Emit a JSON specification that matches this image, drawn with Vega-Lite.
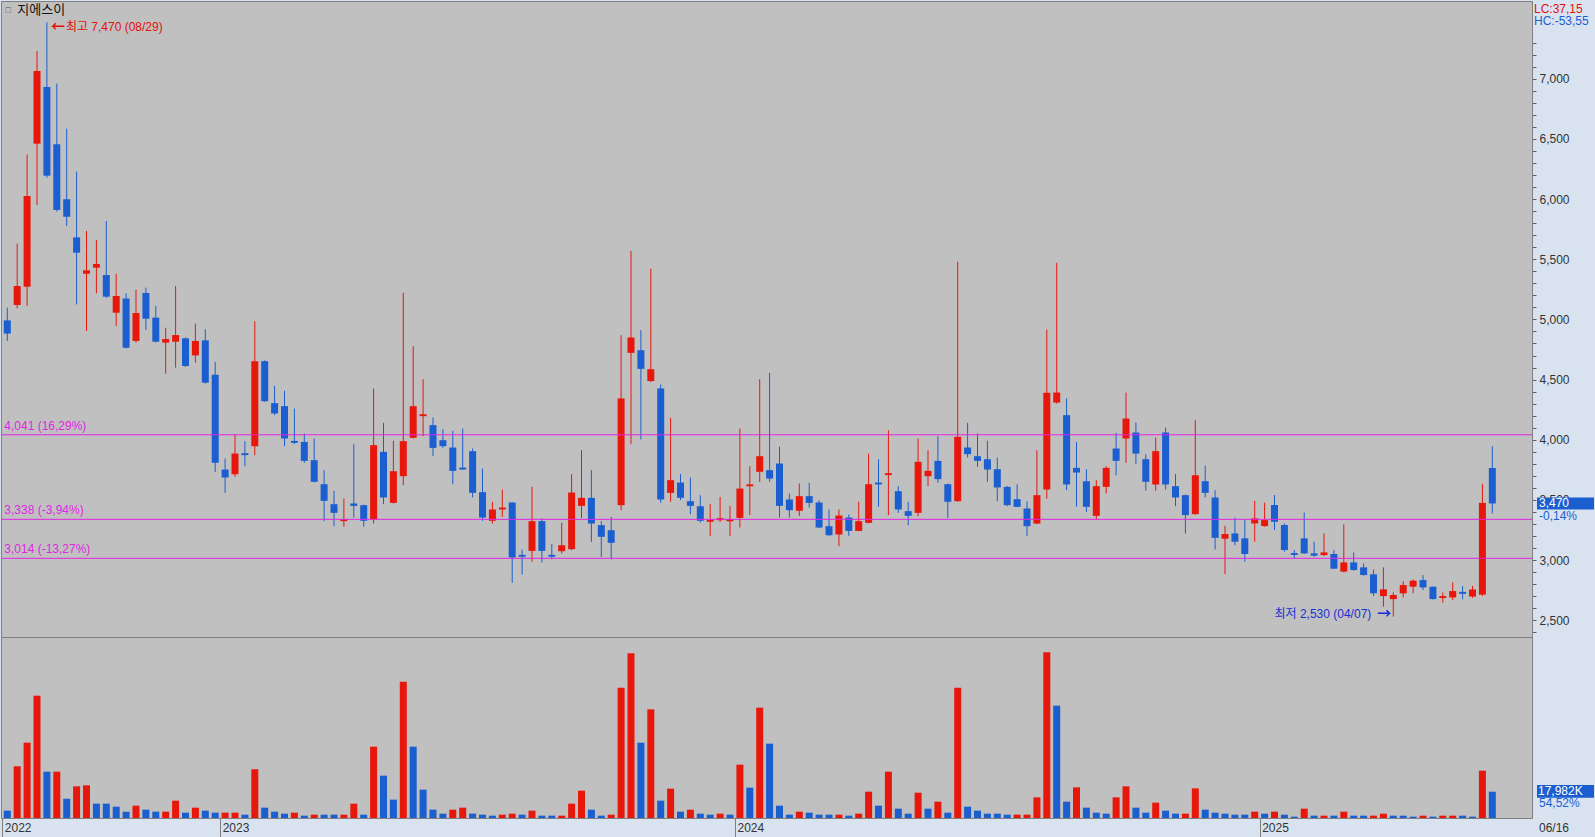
{
"$schema": "https://vega.github.io/schema/vega-lite/v6.json",
"background": "#d9e3f0",
"padding": 0,
"spacing": 0,
"bounds": "flush",
"config": {
 "view": {"fill": "#c0c0c0", "stroke": "#808080", "strokeWidth": 1},
 "font": "Liberation Sans, Noto Sans CJK KR, sans-serif",
 "concat": {"spacing": 0}
},
"datasets": {
 "weekly": [
{"d":"2022-08-01","o":4992,"h":5098,"l":4821,"c":4882,"v":5014,"vd":"down"},
{"d":"2022-08-08","o":5120,"h":5630,"l":5092,"c":5278,"v":35325,"vd":"up"},
{"d":"2022-08-15","o":5272,"h":6372,"l":5112,"c":6026,"v":51505,"vd":"up"},
{"d":"2022-08-22","o":6461,"h":7231,"l":5951,"c":7065,"v":83640,"vd":"up"},
{"d":"2022-08-29","o":6932,"h":7470,"l":6178,"c":6195,"v":31678,"vd":"down"},
{"d":"2022-09-05","o":6456,"h":6960,"l":5896,"c":5910,"v":31678,"vd":"up"},
{"d":"2022-09-12","o":5998,"h":6586,"l":5777,"c":5854,"v":13218,"vd":"down"},
{"d":"2022-09-19","o":5682,"h":6228,"l":5125,"c":5555,"v":21650,"vd":"up"},
{"d":"2022-09-26","o":5380,"h":5735,"l":4904,"c":5408,"v":22334,"vd":"up"},
{"d":"2022-10-03","o":5430,"h":5660,"l":5217,"c":5461,"v":9800,"vd":"down"},
{"d":"2022-10-10","o":5369,"h":5818,"l":5180,"c":5189,"v":9800,"vd":"down"},
{"d":"2022-10-17","o":5056,"h":5380,"l":4945,"c":5195,"v":7749,"vd":"down"},
{"d":"2022-10-24","o":5173,"h":5217,"l":4758,"c":4765,"v":4330,"vd":"down"},
{"d":"2022-10-31","o":4821,"h":5247,"l":4807,"c":5053,"v":8432,"vd":"up"},
{"d":"2022-11-07","o":5220,"h":5264,"l":4912,"c":5006,"v":5698,"vd":"down"},
{"d":"2022-11-14","o":5015,"h":5112,"l":4807,"c":4815,"v":4330,"vd":"down"},
{"d":"2022-11-21","o":4807,"h":4931,"l":4549,"c":4837,"v":4330,"vd":"up"},
{"d":"2022-11-28","o":4815,"h":5278,"l":4599,"c":4870,"v":11851,"vd":"up"},
{"d":"2022-12-05","o":4843,"h":4850,"l":4605,"c":4613,"v":3646,"vd":"down"},
{"d":"2022-12-12","o":4701,"h":4965,"l":4640,"c":4821,"v":7065,"vd":"up"},
{"d":"2022-12-19","o":4826,"h":4918,"l":4466,"c":4474,"v":5014,"vd":"down"},
{"d":"2022-12-26","o":4540,"h":4647,"l":3733,"c":3808,"v":3646,"vd":"down"},
{"d":"2023-01-02","o":3752,"h":3844,"l":3558,"c":3686,"v":3646,"vd":"up"},
{"d":"2023-01-09","o":3713,"h":4043,"l":3691,"c":3885,"v":3646,"vd":"up"},
{"d":"2023-01-16","o":3888,"h":3988,"l":3780,"c":3872,"v":2279,"vd":"down"},
{"d":"2023-01-23","o":3946,"h":4985,"l":3871,"c":4653,"v":33273,"vd":"up"},
{"d":"2023-01-30","o":4653,"h":4660,"l":4315,"c":4320,"v":7065,"vd":"down"},
{"d":"2023-02-06","o":4304,"h":4448,"l":4204,"c":4218,"v":4330,"vd":"down"},
{"d":"2023-02-13","o":4279,"h":4406,"l":3946,"c":4010,"v":2963,"vd":"down"},
{"d":"2023-02-20","o":3990,"h":4259,"l":3963,"c":3974,"v":3646,"vd":"up"},
{"d":"2023-02-27","o":3982,"h":4052,"l":3808,"c":3824,"v":1595,"vd":"down"},
{"d":"2023-03-06","o":3830,"h":4010,"l":3645,"c":3650,"v":2279,"vd":"up"},
{"d":"2023-03-13","o":3630,"h":3747,"l":3323,"c":3492,"v":2279,"vd":"down"},
{"d":"2023-03-20","o":3464,"h":3575,"l":3281,"c":3392,"v":2279,"vd":"down"},
{"d":"2023-03-27","o":3323,"h":3511,"l":3276,"c":3339,"v":2279,"vd":"up"},
{"d":"2023-04-03","o":3470,"h":3963,"l":3353,"c":3450,"v":9800,"vd":"up"},
{"d":"2023-04-10","o":3456,"h":3460,"l":3276,"c":3326,"v":2279,"vd":"down"},
{"d":"2023-04-17","o":3337,"h":4426,"l":3303,"c":3955,"v":48771,"vd":"up"},
{"d":"2023-04-24","o":3899,"h":4140,"l":3464,"c":3520,"v":28943,"vd":"down"},
{"d":"2023-05-01","o":3475,"h":3991,"l":3470,"c":3738,"v":12535,"vd":"down"},
{"d":"2023-05-08","o":3697,"h":5221,"l":3622,"c":3988,"v":93211,"vd":"up"},
{"d":"2023-05-15","o":4016,"h":4778,"l":4010,"c":4279,"v":48771,"vd":"down"},
{"d":"2023-05-22","o":4196,"h":4503,"l":4029,"c":4212,"v":19372,"vd":"down"},
{"d":"2023-05-29","o":4121,"h":4185,"l":3863,"c":3932,"v":5698,"vd":"down"},
{"d":"2023-06-05","o":3996,"h":4088,"l":3932,"c":3946,"v":2963,"vd":"down"},
{"d":"2023-06-12","o":3935,"h":4074,"l":3630,"c":3741,"v":5698,"vd":"up"},
{"d":"2023-06-19","o":3768,"h":4093,"l":3748,"c":3752,"v":7065,"vd":"up"},
{"d":"2023-06-26","o":3905,"h":3927,"l":3520,"c":3558,"v":2963,"vd":"down"},
{"d":"2023-07-03","o":3564,"h":3761,"l":3326,"c":3353,"v":2279,"vd":"down"},
{"d":"2023-07-10","o":3326,"h":3484,"l":3303,"c":3420,"v":1595,"vd":"down"},
{"d":"2023-07-17","o":3420,"h":3586,"l":3359,"c":3436,"v":2279,"vd":"up"},
{"d":"2023-07-24","o":3478,"h":3480,"l":2810,"c":3021,"v":2963,"vd":"up"},
{"d":"2023-07-31","o":3043,"h":3087,"l":2879,"c":3027,"v":2279,"vd":"down"},
{"d":"2023-08-07","o":3076,"h":3608,"l":2985,"c":3323,"v":5014,"vd":"up"},
{"d":"2023-08-14","o":3323,"h":3345,"l":2979,"c":3076,"v":1595,"vd":"down"},
{"d":"2023-08-21","o":3043,"h":3132,"l":3007,"c":3027,"v":1595,"vd":"down"},
{"d":"2023-08-28","o":3073,"h":3309,"l":3054,"c":3123,"v":1595,"vd":"up"},
{"d":"2023-09-04","o":3090,"h":3714,"l":3082,"c":3561,"v":9800,"vd":"up"},
{"d":"2023-09-11","o":3450,"h":3913,"l":3350,"c":3517,"v":18688,"vd":"up"},
{"d":"2023-09-18","o":3517,"h":3747,"l":3151,"c":3303,"v":5698,"vd":"down"},
{"d":"2023-09-25","o":3290,"h":3323,"l":3026,"c":3193,"v":1595,"vd":"down"},
{"d":"2023-10-02","o":3248,"h":3359,"l":3004,"c":3143,"v":2279,"vd":"up"},
{"d":"2023-10-09","o":3456,"h":4869,"l":3414,"c":4343,"v":89109,"vd":"up"},
{"d":"2023-10-16","o":4722,"h":5570,"l":3963,"c":4850,"v":112583,"vd":"up"},
{"d":"2023-10-23","o":4744,"h":4911,"l":4002,"c":4589,"v":51505,"vd":"down"},
{"d":"2023-10-30","o":4487,"h":5423,"l":4481,"c":4586,"v":74295,"vd":"up"},
{"d":"2023-11-06","o":4426,"h":4459,"l":3475,"c":3503,"v":11851,"vd":"down"},
{"d":"2023-11-13","o":3558,"h":4182,"l":3484,"c":3664,"v":20055,"vd":"up"},
{"d":"2023-11-20","o":3644,"h":3714,"l":3497,"c":3517,"v":4330,"vd":"down"},
{"d":"2023-11-27","o":3489,"h":3686,"l":3381,"c":3450,"v":5698,"vd":"up"},
{"d":"2023-12-04","o":3447,"h":3539,"l":3312,"c":3326,"v":2963,"vd":"down"},
{"d":"2023-12-11","o":3318,"h":3464,"l":3201,"c":3334,"v":2279,"vd":"down"},
{"d":"2023-12-18","o":3331,"h":3525,"l":3317,"c":3347,"v":2963,"vd":"up"},
{"d":"2023-12-25","o":3322,"h":3450,"l":3201,"c":3338,"v":2279,"vd":"down"},
{"d":"2024-01-01","o":3350,"h":4093,"l":3270,"c":3594,"v":36464,"vd":"up"},
{"d":"2024-01-08","o":3613,"h":3780,"l":3373,"c":3629,"v":20739,"vd":"down"},
{"d":"2024-01-15","o":3733,"h":4503,"l":3650,"c":3863,"v":75435,"vd":"up"},
{"d":"2024-01-22","o":3747,"h":4556,"l":3650,"c":3677,"v":50822,"vd":"down"},
{"d":"2024-01-29","o":3802,"h":3941,"l":3353,"c":3450,"v":8432,"vd":"down"},
{"d":"2024-02-05","o":3503,"h":3553,"l":3353,"c":3414,"v":2279,"vd":"down"},
{"d":"2024-02-12","o":3409,"h":3636,"l":3367,"c":3531,"v":4330,"vd":"up"},
{"d":"2024-02-19","o":3531,"h":3641,"l":3436,"c":3475,"v":3646,"vd":"down"},
{"d":"2024-02-26","o":3478,"h":3497,"l":3265,"c":3270,"v":2279,"vd":"down"},
{"d":"2024-03-04","o":3281,"h":3420,"l":3198,"c":3206,"v":2279,"vd":"down"},
{"d":"2024-03-11","o":3212,"h":3420,"l":3115,"c":3370,"v":2279,"vd":"up"},
{"d":"2024-03-18","o":3353,"h":3378,"l":3201,"c":3242,"v":1595,"vd":"down"},
{"d":"2024-03-25","o":3242,"h":3484,"l":3240,"c":3323,"v":2963,"vd":"up"},
{"d":"2024-04-01","o":3309,"h":3885,"l":3305,"c":3630,"v":18004,"vd":"up"},
{"d":"2024-04-08","o":3644,"h":3838,"l":3442,"c":3628,"v":8432,"vd":"down"},
{"d":"2024-04-15","o":3706,"h":4079,"l":3373,"c":3722,"v":31678,"vd":"up"},
{"d":"2024-04-22","o":3572,"h":3614,"l":3392,"c":3420,"v":6381,"vd":"down"},
{"d":"2024-04-29","o":3406,"h":3484,"l":3290,"c":3367,"v":2963,"vd":"down"},
{"d":"2024-05-06","o":3392,"h":4010,"l":3364,"c":3816,"v":17320,"vd":"up"},
{"d":"2024-05-13","o":3697,"h":3913,"l":3614,"c":3741,"v":6381,"vd":"down"},
{"d":"2024-05-20","o":3824,"h":4029,"l":3641,"c":3672,"v":11167,"vd":"up"},
{"d":"2024-05-27","o":3630,"h":3636,"l":3350,"c":3484,"v":3646,"vd":"down"},
{"d":"2024-06-03","o":3489,"h":5479,"l":3484,"c":4024,"v":89109,"vd":"up"},
{"d":"2024-06-10","o":3935,"h":4140,"l":3852,"c":3880,"v":7749,"vd":"down"},
{"d":"2024-06-17","o":3863,"h":4052,"l":3775,"c":3824,"v":5014,"vd":"down"},
{"d":"2024-06-24","o":3838,"h":3991,"l":3650,"c":3752,"v":2963,"vd":"down"},
{"d":"2024-07-01","o":3755,"h":3852,"l":3489,"c":3603,"v":2963,"vd":"down"},
{"d":"2024-07-08","o":3608,"h":3614,"l":3448,"c":3456,"v":2279,"vd":"down"},
{"d":"2024-07-15","o":3506,"h":3630,"l":3440,"c":3442,"v":2279,"vd":"up"},
{"d":"2024-07-22","o":3428,"h":3489,"l":3201,"c":3281,"v":2279,"vd":"up"},
{"d":"2024-07-29","o":3303,"h":3913,"l":3298,"c":3539,"v":14130,"vd":"up"},
{"d":"2024-08-05","o":3586,"h":4916,"l":3511,"c":4390,"v":113266,"vd":"up"},
{"d":"2024-08-12","o":4309,"h":5470,"l":4301,"c":4392,"v":76802,"vd":"down"},
{"d":"2024-08-19","o":4204,"h":4343,"l":3581,"c":3628,"v":11167,"vd":"down"},
{"d":"2024-08-26","o":3766,"h":3982,"l":3442,"c":3727,"v":20967,"vd":"up"},
{"d":"2024-09-02","o":3655,"h":3755,"l":3400,"c":3442,"v":7065,"vd":"down"},
{"d":"2024-09-09","o":3367,"h":3664,"l":3339,"c":3614,"v":3646,"vd":"down"},
{"d":"2024-09-16","o":3608,"h":3780,"l":3553,"c":3766,"v":2963,"vd":"down"},
{"d":"2024-09-23","o":3927,"h":4057,"l":3705,"c":3824,"v":14130,"vd":"up"},
{"d":"2024-09-30","o":4010,"h":4392,"l":3808,"c":4176,"v":21650,"vd":"up"},
{"d":"2024-10-07","o":4060,"h":4143,"l":3797,"c":3885,"v":7065,"vd":"down"},
{"d":"2024-10-14","o":3838,"h":3880,"l":3575,"c":3650,"v":3646,"vd":"down"},
{"d":"2024-10-21","o":3628,"h":4018,"l":3575,"c":3905,"v":10483,"vd":"up"},
{"d":"2024-10-28","o":4060,"h":4101,"l":3586,"c":3628,"v":5014,"vd":"down"},
{"d":"2024-11-04","o":3614,"h":3714,"l":3448,"c":3520,"v":2963,"vd":"down"},
{"d":"2024-11-11","o":3539,"h":3545,"l":3220,"c":3373,"v":2963,"vd":"up"},
{"d":"2024-11-18","o":3381,"h":4162,"l":3378,"c":3705,"v":20283,"vd":"up"},
{"d":"2024-11-25","o":3655,"h":3783,"l":3520,"c":3558,"v":5698,"vd":"down"},
{"d":"2024-12-02","o":3520,"h":3581,"l":3087,"c":3184,"v":3646,"vd":"down"},
{"d":"2024-12-09","o":3177,"h":3285,"l":2883,"c":3216,"v":2963,"vd":"down"},
{"d":"2024-12-16","o":3221,"h":3352,"l":3124,"c":3152,"v":2279,"vd":"down"},
{"d":"2024-12-23","o":3180,"h":3332,"l":2986,"c":3050,"v":2279,"vd":"down"},
{"d":"2024-12-30","o":3304,"h":3493,"l":3152,"c":3346,"v":4330,"vd":"up"},
{"d":"2025-01-06","o":3282,"h":3476,"l":3277,"c":3332,"v":2963,"vd":"down"},
{"d":"2025-01-13","o":3457,"h":3540,"l":3249,"c":3318,"v":4330,"vd":"up"},
{"d":"2025-01-20","o":3291,"h":3304,"l":3069,"c":3083,"v":2279,"vd":"down"},
{"d":"2025-01-27","o":3058,"h":3083,"l":3014,"c":3042,"v":912,"vd":"down"},
{"d":"2025-02-03","o":3180,"h":3396,"l":3050,"c":3055,"v":6381,"vd":"up"},
{"d":"2025-02-10","o":3055,"h":3152,"l":3027,"c":3036,"v":1595,"vd":"down"},
{"d":"2025-02-17","o":3041,"h":3221,"l":3033,"c":3063,"v":1595,"vd":"up"},
{"d":"2025-02-24","o":3050,"h":3083,"l":2925,"c":2928,"v":1595,"vd":"down"},
{"d":"2025-03-03","o":2903,"h":3296,"l":2897,"c":2980,"v":4330,"vd":"up"},
{"d":"2025-03-10","o":2980,"h":3063,"l":2911,"c":2917,"v":1595,"vd":"down"},
{"d":"2025-03-17","o":2939,"h":2972,"l":2870,"c":2875,"v":1595,"vd":"down"},
{"d":"2025-03-24","o":2881,"h":2922,"l":2700,"c":2723,"v":1595,"vd":"up"},
{"d":"2025-03-31","o":2700,"h":2939,"l":2612,"c":2756,"v":2963,"vd":"up"},
{"d":"2025-04-07","o":2675,"h":2731,"l":2530,"c":2709,"v":1595,"vd":"down"},
{"d":"2025-04-14","o":2723,"h":2825,"l":2689,"c":2792,"v":1595,"vd":"down"},
{"d":"2025-04-21","o":2778,"h":2839,"l":2723,"c":2828,"v":912,"vd":"down"},
{"d":"2025-04-28","o":2833,"h":2875,"l":2750,"c":2772,"v":1595,"vd":"up"},
{"d":"2025-05-05","o":2778,"h":2780,"l":2672,"c":2675,"v":912,"vd":"down"},
{"d":"2025-05-12","o":2684,"h":2731,"l":2645,"c":2700,"v":1595,"vd":"up"},
{"d":"2025-05-19","o":2689,"h":2814,"l":2667,"c":2742,"v":1595,"vd":"up"},
{"d":"2025-05-26","o":2735,"h":2784,"l":2673,"c":2719,"v":1595,"vd":"down"},
{"d":"2025-06-02","o":2696,"h":2784,"l":2686,"c":2755,"v":912,"vd":"down"},
{"d":"2025-06-09","o":2712,"h":3633,"l":2700,"c":3475,"v":32362,"vd":"up"},
{"d":"2025-06-16","o":3765,"h":3946,"l":3387,"c":3470,"v":17982,"vd":"down"}
 ]
},
"vconcat": [
 {
  "width": 1531,
  "height": 636,
  "resolve": {"axis": {"x": "independent", "y": "independent"}},
  "layer": [
   {
    "data": {"name": "weekly"},
    "mark": {"type": "rule", "strokeWidth": 1},
    "encoding": {
     "x": {"field": "d", "type": "temporal", "scale": {"type": "utc", "padding": 0, "domain": [{"year": 2022, "month": 7, "date": 27, "hours": 13, "minutes": 5, "utc": true}, {"year": 2025, "month": 7, "date": 14, "hours": 1, "minutes": 30, "utc": true}]}, "axis": null},
     "y": {"field": "l", "type": "quantitative", "scale": {"domain": [2360, 7647], "nice": false, "zero": false, "padding": 0},
      "axis": {"orient": "right", "title": null, "grid": false,
       "values": [2400,2500,2600,2700,2800,2900,3000,3100,3200,3300,3400,3500,3600,3700,3800,3900,4000,4100,4200,4300,4400,4500,4600,4700,4800,4900,5000,5100,5200,5300,5400,5500,5600,5700,5800,5900,6000,6100,6200,6300,6400,6500,6600,6700,6800,6900,7000,7100,7200,7300],
       "labelExpr": "datum.value % 500 === 0 ? format(datum.value, ',') : ''",
       "tickSize": 4,
       "labelPadding": 3, "labelFontSize": 12, "labelColor": "#333333", "tickColor": "#606060", "domainColor": "#808080",
       "labelOverlap": false, "labelFlush": false, "labelBaseline": "middle", "labelAlign": "left",
       "minExtent": 64, "maxExtent": 64}},
     "y2": {"field": "h"},
     "color": {"condition": {"test": "datum.c >= datum.o", "value": "#e8170c"}, "value": "#1a5ecf"}
    }
   },
   {
    "data": {"name": "weekly"},
    "mark": {"type": "bar", "size": 7, "orient": "vertical"},
    "encoding": {
     "x": {"field": "d", "type": "temporal", "axis": null},
     "y": {"field": "o", "type": "quantitative", "axis": null},
     "y2": {"field": "c"},
     "color": {"condition": {"test": "datum.c >= datum.o", "value": "#e8170c"}, "value": "#1a5ecf"}
    }
   },
   {
    "data": {"values": [{"lv": 4041, "lb": "4,041 (16,29%)"}, {"lv": 3338, "lb": "3,338 (-3,94%)"}, {"lv": 3014, "lb": "3,014 (-13,27%)"}]},
    "mark": {"type": "rule", "color": "#e324e3", "strokeWidth": 1},
    "encoding": {"y": {"field": "lv", "type": "quantitative", "axis": null}}
   },
   {
    "data": {"values": [{"lv": 4041, "lb": "4,041 (16,29%)"}, {"lv": 3338, "lb": "3,338 (-3,94%)"}, {"lv": 3014, "lb": "3,014 (-13,27%)"}]},
    "mark": {"type": "text", "color": "#e324e3", "fontSize": 12, "align": "left", "baseline": "alphabetic", "dx": -3, "dy": -5},
    "encoding": {
     "x": {"datum": {"year": 2022, "month": 8, "date": 1, "utc": true}, "type": "temporal", "axis": null},
     "y": {"field": "lv", "type": "quantitative", "axis": null},
     "text": {"field": "lb"}
    }
   },
   {
    "data": {"values": [{}]},
    "mark": {"type": "text", "text": "←", "font": "Noto Sans CJK KR", "fontWeight": "bold", "color": "#e0120a", "fontSize": 14, "align": "left", "baseline": "middle", "dx": 4, "dy": 5},
    "encoding": {
     "x": {"datum": {"year": 2022, "month": 8, "date": 29, "utc": true}, "type": "temporal", "axis": null},
     "y": {"datum": 7470, "type": "quantitative", "axis": null}
    }
   },
   {
    "data": {"values": [{}]},
    "mark": {"type": "text", "text": "최고 7,470 (08/29)", "color": "#e0120a", "fontSize": 12, "align": "left", "baseline": "middle", "dx": 19, "dy": 5},
    "encoding": {
     "x": {"datum": {"year": 2022, "month": 8, "date": 29, "utc": true}, "type": "temporal", "axis": null},
     "y": {"datum": 7470, "type": "quantitative", "axis": null}
    }
   },
   {
    "data": {"values": [{}]},
    "mark": {"type": "text", "text": "최저 2,530 (04/07)", "color": "#1a2fd0", "fontSize": 12, "align": "right", "baseline": "middle", "dx": -22, "dy": -3},
    "encoding": {
     "x": {"datum": {"year": 2025, "month": 4, "date": 7, "utc": true}, "type": "temporal", "axis": null},
     "y": {"datum": 2530, "type": "quantitative", "axis": null}
    }
   },
   {
    "data": {"values": [{}]},
    "mark": {"type": "text", "text": "→", "font": "Noto Sans CJK KR", "fontWeight": "bold", "color": "#1a2fd0", "fontSize": 14, "align": "right", "baseline": "middle", "dx": -2, "dy": -3},
    "encoding": {
     "x": {"datum": {"year": 2025, "month": 4, "date": 7, "utc": true}, "type": "temporal", "axis": null},
     "y": {"datum": 2530, "type": "quantitative", "axis": null}
    }
   },
   {
    "data": {"values": [{}]},
    "mark": {"type": "text", "text": "□", "color": "#555555", "fontSize": 9, "align": "center", "baseline": "middle", "dx": 1},
    "encoding": {
     "x": {"datum": {"year": 2022, "month": 8, "date": 1, "utc": true}, "type": "temporal", "axis": null},
     "y": {"datum": 7572, "type": "quantitative", "axis": null}
    }
   },
   {
    "data": {"values": [{}]},
    "mark": {"type": "text", "text": "지에스이", "color": "#111111", "fontSize": 13, "font": "Noto Sans CJK KR", "align": "left", "baseline": "middle", "dx": 10},
    "encoding": {
     "x": {"datum": {"year": 2022, "month": 8, "date": 1, "utc": true}, "type": "temporal", "axis": null},
     "y": {"datum": 7572, "type": "quantitative", "axis": null}
    }
   },
   {
    "data": {"values": [{}]},
    "mark": {"type": "text", "text": "LC:37,15", "color": "#e0120a", "fontSize": 12, "align": "left", "baseline": "middle", "dx": 2},
    "encoding": {
     "x": {"datum": {"year": 2025, "month": 7, "date": 14, "hours": 1, "minutes": 30, "utc": true}, "type": "temporal", "axis": null},
     "y": {"datum": 7580, "type": "quantitative", "axis": null}
    }
   },
   {
    "data": {"values": [{}]},
    "mark": {"type": "text", "text": "HC:-53,55", "color": "#1a5ecf", "fontSize": 12, "align": "left", "baseline": "middle", "dx": 2},
    "encoding": {
     "x": {"datum": {"year": 2025, "month": 7, "date": 14, "hours": 1, "minutes": 30, "utc": true}, "type": "temporal", "axis": null},
     "y": {"datum": 7482, "type": "quantitative", "axis": null}
    }
   },
   {
    "data": {"values": [{}]},
    "mark": {"type": "rect", "color": "#1a5ecf"},
    "encoding": {
     "x": {"datum": {"year": 2025, "month": 7, "date": 17, "hours": 14, "utc": true}, "type": "temporal", "axis": null},
     "x2": {"datum": {"year": 2025, "month": 8, "date": 26, "hours": 22, "utc": true}},
     "y": {"datum": 3519, "type": "quantitative", "axis": null},
     "y2": {"datum": 3420}
    }
   },
   {
    "data": {"values": [{}]},
    "mark": {"type": "text", "text": "3,470", "color": "#ffffff", "fontSize": 12, "align": "left", "baseline": "middle", "dx": 7},
    "encoding": {
     "x": {"datum": {"year": 2025, "month": 7, "date": 14, "hours": 1, "minutes": 30, "utc": true}, "type": "temporal", "axis": null},
     "y": {"datum": 3470, "type": "quantitative", "axis": null}
    }
   },
   {
    "data": {"values": [{}]},
    "mark": {"type": "text", "text": "-0,14%", "color": "#1a5ecf", "fontSize": 12, "align": "left", "baseline": "middle", "dx": 7},
    "encoding": {
     "x": {"datum": {"year": 2025, "month": 7, "date": 14, "hours": 1, "minutes": 30, "utc": true}, "type": "temporal", "axis": null},
     "y": {"datum": 3370, "type": "quantitative", "axis": null}
    }
   }
  ]
 },
 {
  "width": 1531,
  "height": 181,
  "resolve": {"axis": {"x": "independent", "y": "independent"}},
  "layer": [
   {
    "data": {"name": "weekly"},
    "mark": {"type": "bar", "size": 7, "orient": "vertical"},
    "encoding": {
     "x": {"field": "d", "type": "temporal", "scale": {"type": "utc", "padding": 0, "domain": [{"year": 2022, "month": 7, "date": 27, "hours": 13, "minutes": 5, "utc": true}, {"year": 2025, "month": 7, "date": 14, "hours": 1, "minutes": 30, "utc": true}]},
      "axis": {"orient": "bottom", "title": null, "grid": false,
       "values": [{"year": 2022, "month": 7, "date": 28, "hours": 12, "utc": true}, {"year": 2022, "month": 12, "date": 29, "hours": 12, "utc": true}, {"year": 2023, "month": 12, "date": 28, "hours": 12, "utc": true}, {"year": 2025, "month": 1, "date": 2, "hours": 12, "utc": true}],
       "labelExpr": "'' + utcyear(toNumber(datum.value) + 345600000)",
       "tickSize": 20, "labelAlign": "left", "labelOffset": 2, "labelPadding": -11, "labelBaseline": "middle",
       "labelFontSize": 12, "labelColor": "#333333", "tickColor": "#808080", "domainColor": "#808080",
       "labelFlush": false, "labelOverlap": false, "minExtent": 20, "maxExtent": 20}},
     "y": {"field": "v", "type": "quantitative", "scale": {"domain": [0, 123750], "nice": false, "padding": 0}, "axis": null},
     "color": {"condition": {"test": "datum.vd === 'up'", "value": "#e8170c"}, "value": "#1a5ecf"}
    }
   },
   {
    "data": {"values": [{}]},
    "mark": {"type": "rect", "color": "#1a5ecf"},
    "encoding": {
     "x": {"datum": {"year": 2025, "month": 7, "date": 17, "hours": 14, "utc": true}, "type": "temporal", "axis": null},
     "x2": {"datum": {"year": 2025, "month": 8, "date": 26, "hours": 22, "utc": true}},
     "y": {"datum": 22560, "type": "quantitative", "axis": null},
     "y2": {"datum": 13880}
    }
   },
   {
    "data": {"values": [{}]},
    "mark": {"type": "text", "text": "17,982K", "color": "#ffffff", "fontSize": 12, "align": "left", "baseline": "middle", "dx": 6},
    "encoding": {
     "x": {"datum": {"year": 2025, "month": 7, "date": 14, "hours": 1, "minutes": 30, "utc": true}, "type": "temporal", "axis": null},
     "y": {"datum": 18220, "type": "quantitative", "axis": null}
    }
   },
   {
    "data": {"values": [{}]},
    "mark": {"type": "text", "text": "54,52%", "color": "#1a5ecf", "fontSize": 12, "align": "left", "baseline": "middle", "dx": 7},
    "encoding": {
     "x": {"datum": {"year": 2025, "month": 7, "date": 14, "hours": 1, "minutes": 30, "utc": true}, "type": "temporal", "axis": null},
     "y": {"datum": 9980, "type": "quantitative", "axis": null}
    }
   },
   {
    "data": {"values": [{}]},
    "mark": {"type": "text", "text": "06/16", "color": "#333333", "fontSize": 12, "align": "left", "baseline": "middle", "dx": 7},
    "encoding": {
     "x": {"datum": {"year": 2025, "month": 7, "date": 14, "hours": 1, "minutes": 30, "utc": true}, "type": "temporal", "axis": null},
     "y": {"datum": -6500, "type": "quantitative", "axis": null}
    }
   }
  ]
 }
]
}
